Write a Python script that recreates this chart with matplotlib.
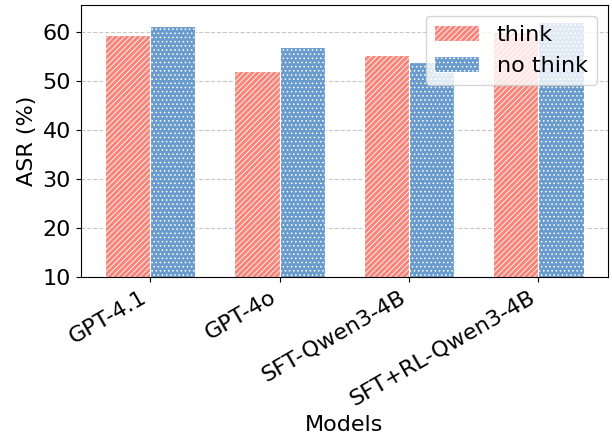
import numpy as np
import matplotlib.pyplot as plt

# data
models = ["GPT-4.1", "GPT-4o", "SFT-Qwen3-4B", "SFT+RL-Qwen3-4B"]
think = [59.4, 52.0, 55.3, 60.0]
no_think = [61.2, 56.9, 53.9, 62.0]

plt.rcParams['hatch.color'] = 'white'
plt.rcParams['hatch.linewidth'] = 0.6

x = np.arange(len(models))
w = 0.35

fig, ax = plt.subplots(figsize=(6.12, 4.37), dpi=100)
ax.bar(x - w/2, think, w, label="think", color="#F88579", hatch="//////", edgecolor="white", linewidth=0.8)
ax.bar(x + w/2, no_think, w, label="no think", color="#6A9BCD", hatch="....", edgecolor="white", linewidth=0.8)

ax.set_ylim(10, 65.5)
ax.set_yticks(np.arange(10, 61, 10))
ax.set_xticks(x)
ax.set_xticklabels(models, rotation=30, ha="right", fontsize=16)
ax.tick_params(axis="y", labelsize=16)
ax.set_xlabel("Models", fontsize=16)
ax.set_ylabel("ASR (%)", fontsize=16)
ax.grid(axis="y", linestyle="--", alpha=0.7)
ax.set_axisbelow(True)
ax.legend(fontsize=16, loc="upper right")

fig.subplots_adjust(left=0.132, right=0.993, top=0.989, bottom=0.366)
plt.savefig("out.png")
